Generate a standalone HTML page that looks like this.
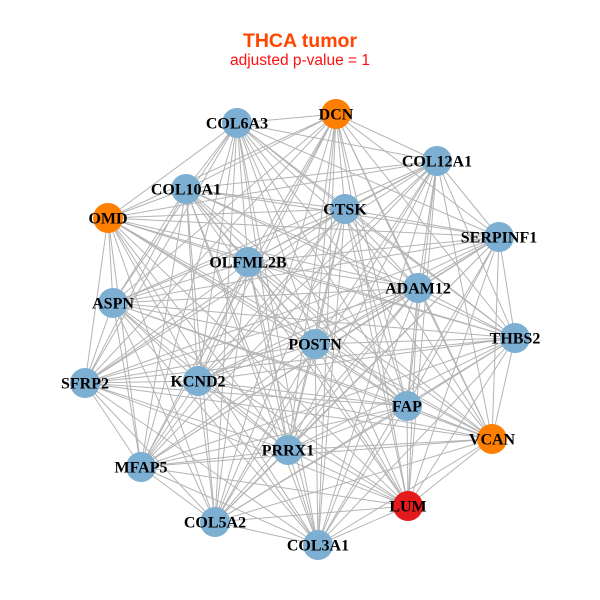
<!DOCTYPE html>
<html><head><meta charset="utf-8"><style>
html,body{margin:0;padding:0;background:#fff;}
svg{display:block;}
</style></head><body>
<svg width="600" height="600" viewBox="0 0 600 600" xmlns="http://www.w3.org/2000/svg">
<rect width="600" height="600" fill="#fff"/>
<text x="300" y="47" text-anchor="middle" font-family="Liberation Sans, sans-serif" font-weight="bold" font-size="19.5" fill="#FF4500">THCA tumor</text>
<text x="300" y="65" text-anchor="middle" font-family="Liberation Sans, sans-serif" font-size="15.5" fill="#FF1010">adjusted p-value = 1</text>
<g fill="none" stroke="#b4b4b4" stroke-width="1">
<path d="M237 123L336 114M237 123L437 161M237 123L186 189M237 123L108 218M237 123L345 209M237 123L499 237M237 123L248 262M237 123L418 288M237 123L113 303M237 123L515 338M237 123L315 344M237 123L85 383M237 123L198 381M237 123L407 406M237 123L492 439M237 123L288 450M237 123L141 467M237 123L408 506M237 123L215 522M237 123L318 545"/>
<path d="M336 114L437 161M336 114L186 189M336 114L108 218M336 114L345 209M336 114L499 237M336 114L248 262M336 114L418 288M336 114L113 303M336 114L515 338M336 114L315 344M336 114L85 383M336 114L198 381M336 114L407 406M336 114L492 439M336 114L288 450M336 114L141 467M336 114L408 506M336 114L215 522M336 114L318 545"/>
<path d="M437 161L186 189M437 161L108 218M437 161L345 209M437 161L499 237M437 161L248 262M437 161L418 288M437 161L113 303M437 161L515 338M437 161L315 344M437 161L85 383M437 161L198 381M437 161L407 406M437 161L492 439M437 161L288 450M437 161L141 467M437 161L408 506M437 161L215 522M437 161L318 545"/>
<path d="M186 189L108 218M186 189L345 209M186 189L499 237M186 189L248 262M186 189L418 288M186 189L113 303M186 189L515 338M186 189L315 344M186 189L85 383M186 189L198 381M186 189L407 406M186 189L492 439M186 189L288 450M186 189L141 467M186 189L408 506M186 189L215 522M186 189L318 545"/>
<path d="M108 218L345 209M108 218L499 237M108 218L248 262M108 218L418 288M108 218L113 303M108 218L515 338M108 218L315 344M108 218L85 383M108 218L198 381M108 218L407 406M108 218L492 439M108 218L288 450M108 218L141 467M108 218L408 506M108 218L215 522M108 218L318 545"/>
<path d="M345 209L499 237M345 209L248 262M345 209L418 288M345 209L113 303M345 209L515 338M345 209L315 344M345 209L85 383M345 209L198 381M345 209L407 406M345 209L492 439M345 209L288 450M345 209L141 467M345 209L408 506M345 209L215 522M345 209L318 545"/>
<path d="M499 237L248 262M499 237L418 288M499 237L113 303M499 237L515 338M499 237L315 344M499 237L85 383M499 237L198 381M499 237L407 406M499 237L492 439M499 237L288 450M499 237L141 467M499 237L408 506M499 237L215 522M499 237L318 545"/>
<path d="M248 262L418 288M248 262L113 303M248 262L515 338M248 262L315 344M248 262L85 383M248 262L198 381M248 262L407 406M248 262L492 439M248 262L288 450M248 262L141 467M248 262L408 506M248 262L215 522M248 262L318 545"/>
<path d="M418 288L113 303M418 288L515 338M418 288L315 344M418 288L85 383M418 288L198 381M418 288L407 406M418 288L492 439M418 288L288 450M418 288L141 467M418 288L408 506M418 288L215 522M418 288L318 545"/>
<path d="M113 303L515 338M113 303L315 344M113 303L85 383M113 303L198 381M113 303L407 406M113 303L492 439M113 303L288 450M113 303L141 467M113 303L408 506M113 303L215 522M113 303L318 545"/>
<path d="M515 338L315 344M515 338L85 383M515 338L198 381M515 338L407 406M515 338L492 439M515 338L288 450M515 338L141 467M515 338L408 506M515 338L215 522M515 338L318 545"/>
<path d="M315 344L85 383M315 344L198 381M315 344L407 406M315 344L492 439M315 344L288 450M315 344L141 467M315 344L408 506M315 344L215 522M315 344L318 545"/>
<path d="M85 383L198 381M85 383L407 406M85 383L492 439M85 383L288 450M85 383L141 467M85 383L408 506M85 383L215 522M85 383L318 545"/>
<path d="M198 381L407 406M198 381L492 439M198 381L288 450M198 381L141 467M198 381L408 506M198 381L215 522M198 381L318 545"/>
<path d="M407 406L492 439M407 406L288 450M407 406L141 467M407 406L408 506M407 406L215 522M407 406L318 545"/>
<path d="M492 439L288 450M492 439L141 467M492 439L408 506M492 439L215 522M492 439L318 545"/>
<path d="M288 450L141 467M288 450L408 506M288 450L215 522M288 450L318 545"/>
<path d="M141 467L408 506M141 467L215 522M141 467L318 545"/>
<path d="M408 506L215 522M408 506L318 545M215 522L318 545"/>
</g>
<g stroke="none">
<circle cx="237" cy="123" r="15" fill="#7DAFD2"/>
<circle cx="336" cy="114" r="15" fill="#FF7F00"/>
<circle cx="437" cy="161" r="15" fill="#7DAFD2"/>
<circle cx="186" cy="189" r="15" fill="#7DAFD2"/>
<circle cx="108" cy="218" r="15" fill="#FF7F00"/>
<circle cx="345" cy="209" r="15" fill="#7DAFD2"/>
<circle cx="499" cy="237" r="15" fill="#7DAFD2"/>
<circle cx="248" cy="262" r="15" fill="#7DAFD2"/>
<circle cx="418" cy="288" r="15" fill="#7DAFD2"/>
<circle cx="113" cy="303" r="15" fill="#7DAFD2"/>
<circle cx="515" cy="338" r="15" fill="#7DAFD2"/>
<circle cx="315" cy="344" r="15" fill="#7DAFD2"/>
<circle cx="85" cy="383" r="15" fill="#7DAFD2"/>
<circle cx="198" cy="381" r="15" fill="#7DAFD2"/>
<circle cx="407" cy="406" r="15" fill="#7DAFD2"/>
<circle cx="492" cy="439" r="15" fill="#FF7F00"/>
<circle cx="288" cy="450" r="15" fill="#7DAFD2"/>
<circle cx="141" cy="467" r="15" fill="#7DAFD2"/>
<circle cx="408" cy="506" r="15" fill="#E41A1C"/>
<circle cx="215" cy="522" r="15" fill="#7DAFD2"/>
<circle cx="318" cy="545" r="15" fill="#7DAFD2"/>
</g>
<g font-family="Liberation Serif, serif" font-weight="bold" font-size="16" fill="#000" text-anchor="middle">
<text x="237" y="128.5">COL6A3</text>
<text x="336" y="119.5">DCN</text>
<text x="437" y="166.5">COL12A1</text>
<text x="186" y="194.5">COL10A1</text>
<text x="108" y="223.5">OMD</text>
<text x="345" y="214.5">CTSK</text>
<text x="499" y="242.5">SERPINF1</text>
<text x="248" y="267.5">OLFML2B</text>
<text x="418" y="293.5">ADAM12</text>
<text x="113" y="308.5">ASPN</text>
<text x="515" y="343.5">THBS2</text>
<text x="315" y="349.5">POSTN</text>
<text x="85" y="388.5">SFRP2</text>
<text x="198" y="386.5">KCND2</text>
<text x="407" y="411.5">FAP</text>
<text x="492" y="444.5">VCAN</text>
<text x="288" y="455.5">PRRX1</text>
<text x="141" y="472.5">MFAP5</text>
<text x="408" y="511.5">LUM</text>
<text x="215" y="527.5">COL5A2</text>
<text x="318" y="550.5">COL3A1</text>
</g>
</svg>
</body></html>
